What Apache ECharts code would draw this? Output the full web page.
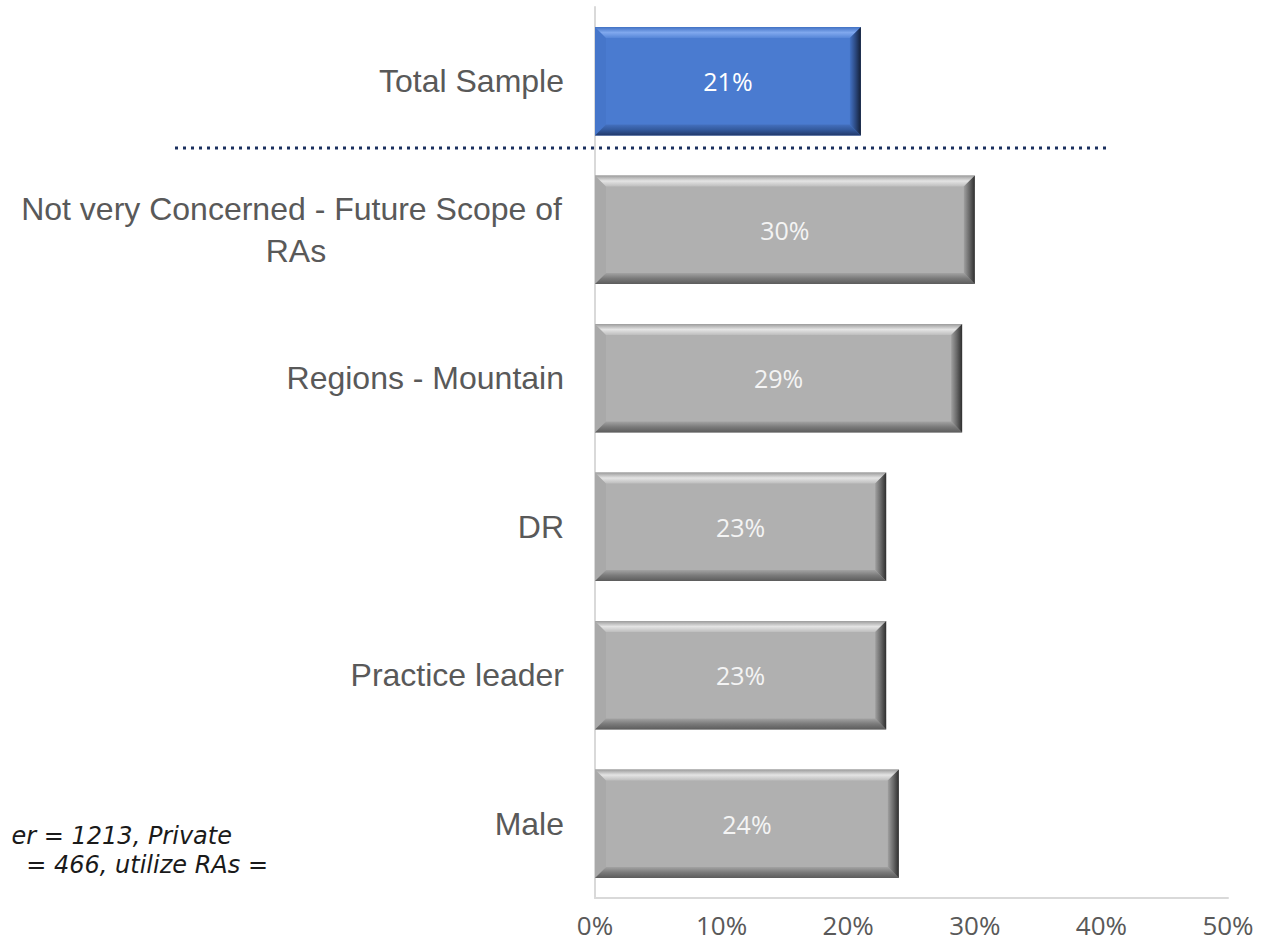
<!DOCTYPE html>
<html>
<head>
<meta charset="utf-8">
<script src="https://cdn.jsdelivr.net/npm/echarts@6/dist/echarts.min.js"></script>
<style>html,body{margin:0;padding:0;background:#fff;}#c{width:1268px;height:945px;}</style>
</head>
<body>
<div id="c"></div>
<script>
var categories = ["Total Sample", "Not very Concerned - Future Scope of RAs", "Regions - Mountain", "DR", "Practice leader", "Male"];
var values = [21, 30, 29, 23, 23, 24];
var tickValues = [0, 10, 20, 30, 40, 50];
var highlightIndex = 0;
var noteLines = ["er = 1213, Private", "= 466, utilize RAs ="];

var palettes = {
  grey: {base: '#b0b0b0', left: '#a9a9a9', top: ['#9c9c9c', '#e4e4e4', '#bdbdbd'], bottom: ['#a3a3a3', '#7a7a7a', '#5c5c5c'], right: ['#a0a0a0', '#6a6a6a', '#2e2e2e'], text: '#f4f4f4'},
  blue: {base: '#4a7bd0', left: '#4676ca', top: ['#4272c4', '#80a8ee', '#5686d8'], bottom: ['#4470be', '#33599c', '#22396a'], right: ['#4372c4', '#2c4a82', '#141f36'], text: '#ffffff'}
};

function lg(x0, y0, x1, y1, cols) {
  return new echarts.graphic.LinearGradient(x0, y0, x1, y1, [
    {offset: 0, color: cols[0]}, {offset: 0.5, color: cols[1]}, {offset: 1, color: cols[2]}
  ]);
}

function renderBar(params, api) {
  var idx = api.value(0);
  var val = api.value(1);
  var p0 = api.coord([0, idx]);
  var p1 = api.coord([val, idx]);
  var band = api.size([0, 1])[1];
  var h = band * 0.73;
  var x0 = p0[0], x1 = p1[0];
  var y0 = p0[1] - h / 2, y1 = p0[1] + h / 2;
  var b = 11;
  var pal = idx === highlightIndex ? palettes.blue : palettes.grey;
  return {
    type: 'group',
    children: [
      {type: 'rect', shape: {x: x0, y: y0, width: x1 - x0, height: h}, style: {fill: pal.base}},
      {type: 'polygon', shape: {points: [[x0, y0], [x0 + b, y0 + b], [x0 + b, y1 - b], [x0, y1]]}, style: {fill: pal.left}},
      {type: 'polygon', shape: {points: [[x0, y0], [x1, y0], [x1 - b, y0 + b], [x0 + b, y0 + b]]}, style: {fill: lg(0, 0, 0, 1, pal.top)}},
      {type: 'polygon', shape: {points: [[x0, y1], [x0 + b, y1 - b], [x1 - b, y1 - b], [x1, y1]]}, style: {fill: lg(0, 0, 0, 1, pal.bottom)}},
      {type: 'polygon', shape: {points: [[x1, y0], [x1, y1], [x1 - b, y1 - b], [x1 - b, y0 + b]]}, style: {fill: lg(0, 0, 1, 0, pal.right)}},
      {type: 'text', x: (x0 + x1) / 2, y: p0[1], style: {text: val + '%', fill: pal.text, font: '25px "Open Sans", "Liberation Sans", sans-serif', align: 'center', verticalAlign: 'middle'}}
    ]
  };
}

var chart = echarts.init(document.getElementById('c'), null, {renderer: 'svg'});
chart.setOption({
  animation: false,
  backgroundColor: '#ffffff',
  grid: {left: 595, right: 40, top: 7, bottom: 47, containLabel: false},
  xAxis: {
    type: 'value', min: tickValues[0], max: tickValues[tickValues.length - 1], interval: tickValues[1] - tickValues[0],
    axisLine: {show: true, lineStyle: {color: '#d9d9d9', width: 2}},
    axisTick: {show: false},
    splitLine: {show: false},
    axisLabel: {formatter: '{value}%', color: '#595959', margin: 12, fontSize: 26, lineHeight: 30, fontFamily: '"Open Sans", "Liberation Sans", sans-serif'}
  },
  yAxis: {
    type: 'category', data: categories, inverse: true,
    axisLine: {show: true, lineStyle: {color: '#d9d9d9', width: 2}},
    axisTick: {show: false},
    axisLabel: {
      color: '#595959', fontSize: 32, fontFamily: '"Liberation Sans", Arial, sans-serif', margin: 31,
      width: 545, overflow: 'break', lineHeight: 42,
      formatter: function (v) { return v.length > 30 ? '{c|' + v + '}' : v; },
      rich: {c: {align: 'center', fontSize: 32, lineHeight: 42, color: '#595959', fontFamily: '"Liberation Sans", Arial, sans-serif'}}
    }
  },
  series: [{
    type: 'custom',
    renderItem: renderBar,
    encode: {x: 1, y: 0},
    data: values.map(function (v, i) { return [i, v]; })
  }],
  graphic: [
    {type: 'line', shape: {x1: 175, y1: 148, x2: 1108, y2: 148}, style: {stroke: '#1a2f5e', lineWidth: 3, lineDash: [3, 5], lineCap: 'butt'}},
    {type: 'text', x: 232, y: 836, style: {text: noteLines[0], align: 'right', verticalAlign: 'middle', fill: '#1a1a1a', font: 'italic 24px "DejaVu Sans", sans-serif'}},
    {type: 'text', x: 268, y: 865, style: {text: noteLines[1], align: 'right', verticalAlign: 'middle', fill: '#1a1a1a', font: 'italic 24px "DejaVu Sans", sans-serif'}}
  ]
});
</script>
</body>
</html>
